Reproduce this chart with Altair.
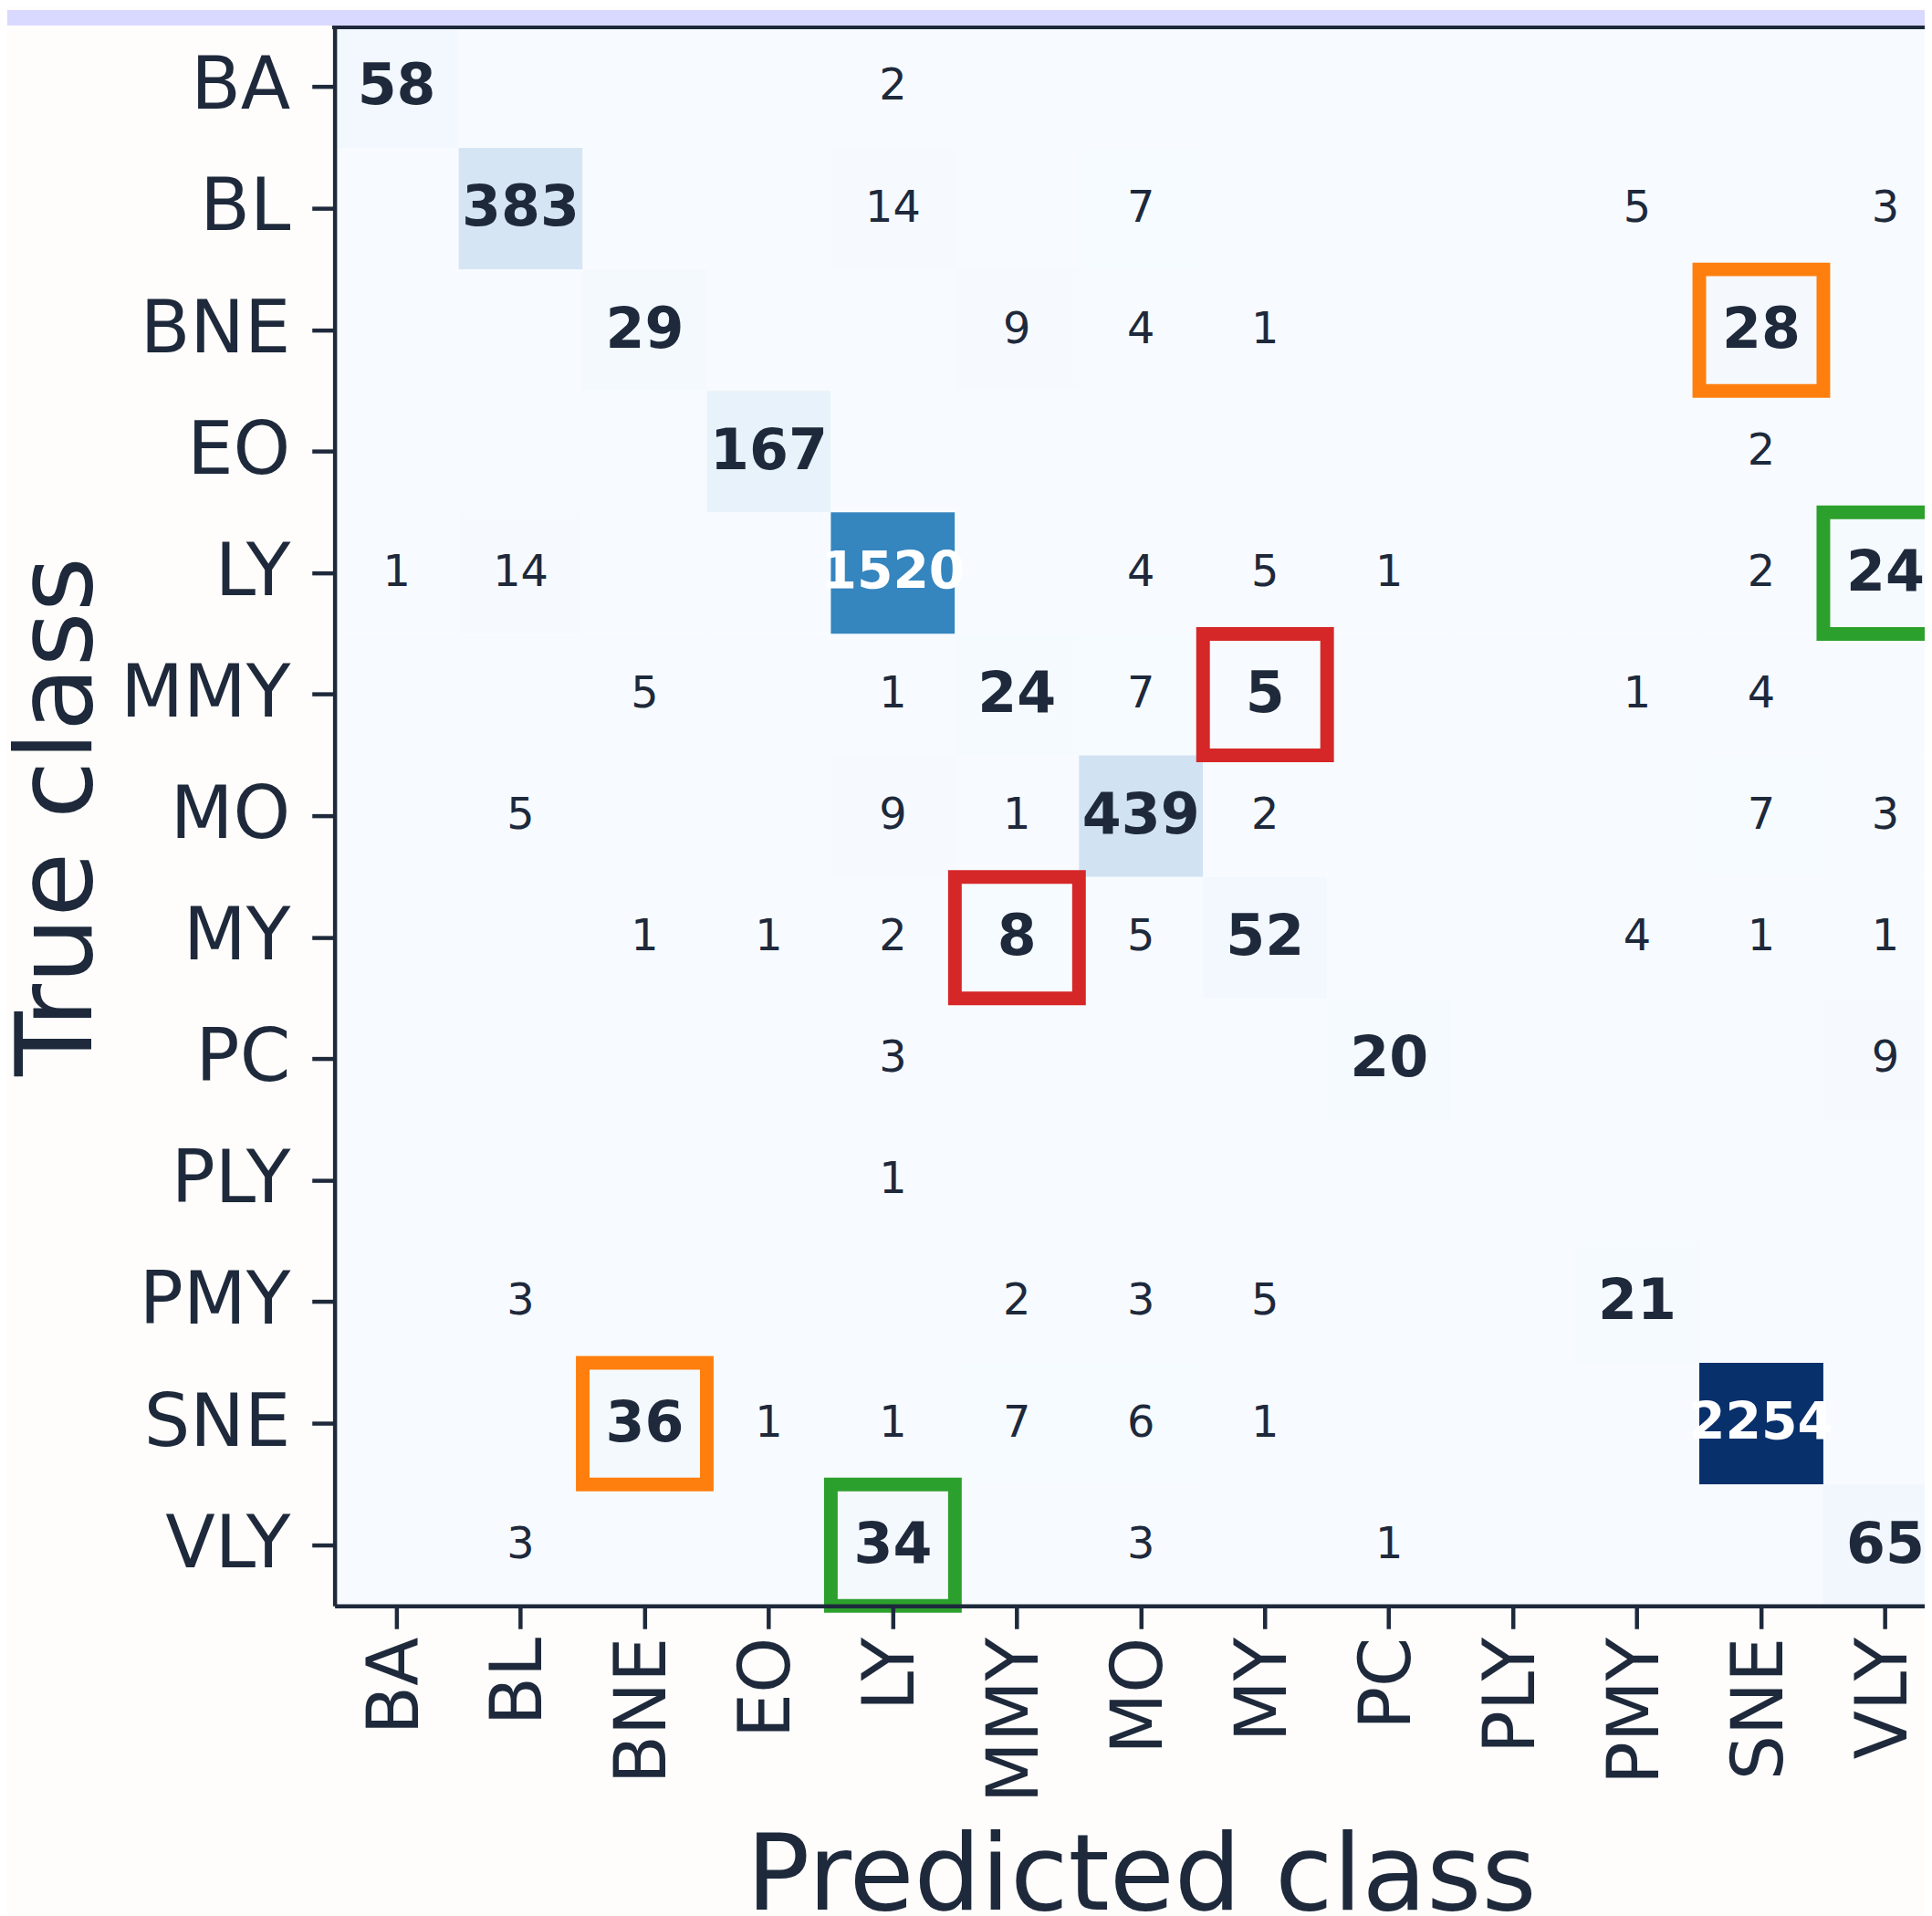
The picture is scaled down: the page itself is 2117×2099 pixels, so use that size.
import altair as alt
import pandas as pd

# ---- data ----
classes = ["BA", "BL", "BNE", "EO", "LY", "MMY", "MO", "MY", "PC", "PLY", "PMY", "SNE", "VLY"]

row_BA  = [58, 0, 0, 0, 2, 0, 0, 0, 0, 0, 0, 0, 0]
row_BL  = [0, 383, 0, 0, 14, 0, 7, 0, 0, 0, 5, 0, 3]
row_BNE = [0, 0, 29, 0, 0, 9, 4, 1, 0, 0, 0, 28, 0]
row_EO  = [0, 0, 0, 167, 0, 0, 0, 0, 0, 0, 0, 2, 0]
row_LY  = [1, 14, 0, 0, 1520, 0, 4, 5, 1, 0, 0, 2, 24]
row_MMY = [0, 0, 5, 0, 1, 24, 7, 5, 0, 0, 1, 4, 0]
row_MO  = [0, 5, 0, 0, 9, 1, 439, 2, 0, 0, 0, 7, 3]
row_MY  = [0, 0, 1, 1, 2, 8, 5, 52, 0, 0, 4, 1, 1]
row_PC  = [0, 0, 0, 0, 3, 0, 0, 0, 20, 0, 0, 0, 9]
row_PLY = [0, 0, 0, 0, 1, 0, 0, 0, 0, 0, 0, 0, 0]
row_PMY = [0, 3, 0, 0, 0, 2, 3, 5, 0, 0, 21, 0, 0]
row_SNE = [0, 0, 36, 1, 1, 7, 6, 1, 0, 0, 0, 2254, 0]
row_VLY = [0, 3, 0, 0, 34, 0, 3, 0, 1, 0, 0, 0, 65]

rows = [row_BA, row_BL, row_BNE, row_EO, row_LY, row_MMY, row_MO,
        row_MY, row_PC, row_PLY, row_PMY, row_SNE, row_VLY]

highlight_true = ["BNE", "SNE", "LY", "VLY", "MMY", "MY"]
highlight_pred = ["SNE", "BNE", "VLY", "LY", "MY", "MMY"]
highlight_group = ["orange", "orange", "green", "green", "red", "red"]

# ---- build tables ----
boxed = set(zip(highlight_true, highlight_pred))
records = []
for t, vals in zip(classes, rows):
    for p, v in zip(classes, vals):
        records.append({"true": t, "pred": p, "value": v,
                        "bold": (t == p) or ((t, p) in boxed)})
cm = pd.DataFrame(records)
boxes = pd.DataFrame({"true": highlight_true, "pred": highlight_pred, "group": highlight_group})

dark = "#1e293b"
font = "DejaVu Sans"
blues = ["#f7fbff", "#deebf7", "#c6dbef", "#9ecae1", "#6baed6",
         "#4292c6", "#2171b5", "#08519c", "#08306b"]
blue_stops = [0, 281.75, 563.5, 845.25, 1127, 1408.75, 1690.5, 1972.25, 2254]

W = 1749
H = 1737
XR = 1774

x_axis = alt.Axis(
    title="Predicted class", labelAngle=270, labelAlign="right", labelBaseline="middle",
    labelFont=font, labelFontSize=78, labelColor=dark, labelPadding=9, labelLimit=0,
    tickSize=25, tickWidth=4.5, tickColor=dark,
    domainColor=dark, domainWidth=4.5, grid=False,
    titleFont=font, titleFontSize=116, titleFontWeight="normal", titleColor=dark,
    titleX=887, titleY=333, titleAlign="center", titleBaseline="alphabetic",
)
y_axis = alt.Axis(
    title="True class", labelFont=font, labelFontSize=80, labelColor=dark, labelPadding=24,
    labelAlign="right", labelBaseline="middle", labelLimit=0,
    tickSize=25, tickWidth=4.5, tickColor=dark,
    domainColor=dark, domainWidth=4.5, grid=False,
    titleFont=font, titleFontSize=116, titleFontWeight="normal", titleColor=dark,
    titleAngle=270, titleX=-268, titleY=868.5, titleAlign="center", titleBaseline="alphabetic",
)

xs = alt.Scale(type="band", domain=classes, range=[0, XR], paddingInner=0, paddingOuter=0)
ys = alt.Scale(type="band", domain=classes, paddingInner=0, paddingOuter=0)

X = alt.X("pred:N", scale=xs, axis=x_axis, sort=classes)
Y = alt.Y("true:N", scale=ys, axis=y_axis, sort=classes)

cells = alt.Chart(cm).mark_rect().encode(
    x=X, y=Y,
    color=alt.Color("value:Q", scale=alt.Scale(domain=blue_stops, range=blues, interpolate="rgb"),
                    legend=None),
)

txt_norm = alt.Chart(cm).transform_filter("datum.value > 0 && !datum.bold").mark_text(
    font=font, fontWeight="normal", baseline="middle", align="center", fontSize=48, color=dark
).encode(x=X, y=Y, text="value:Q")

txt_bold = alt.Chart(cm).transform_filter("datum.value > 0 && datum.bold").mark_text(
    font=font, fontWeight="bold", baseline="middle", align="center"
).encode(
    x=X, y=Y, text="value:Q",
    size=alt.condition("datum.value >= 1000", alt.value(57), alt.value(62)),
    color=alt.condition("datum.value > 1127", alt.value("white"), alt.value(dark)),
)

box_layer = alt.Chart(boxes).mark_rect(filled=False, strokeWidth=15).encode(
    x=X, y=Y,
    color=alt.Color("group:N", scale=alt.Scale(domain=["orange", "green", "red"],
                                               range=["#ff7f0e", "#2ca02c", "#d62728"]),
                    legend=None),
)

top_border = alt.Chart(cm).mark_rule(color=dark, strokeWidth=4.5).encode(
    x=alt.value(-2), x2=alt.value(XR + 10), y=alt.value(0)
)

band = alt.Chart(cm).mark_rect(color="#d9d8fe").encode(
    x=alt.value(-400), x2=alt.value(XR + 40), y=alt.value(-18), y2=alt.value(-1)
)

chart = alt.layer(cells, txt_norm, txt_bold, box_layer, top_border, band).properties(
    width=W, height=H,
    autosize=alt.AutoSizeParams(type="none"),
    padding={"left": 360, "top": 17, "right": 0, "bottom": 337},
    background="#fefdfb",
).configure_view(strokeWidth=0).resolve_scale(color="independent")

chart.save("out.html", embed_options={"renderer": "svg", "actions": False})
